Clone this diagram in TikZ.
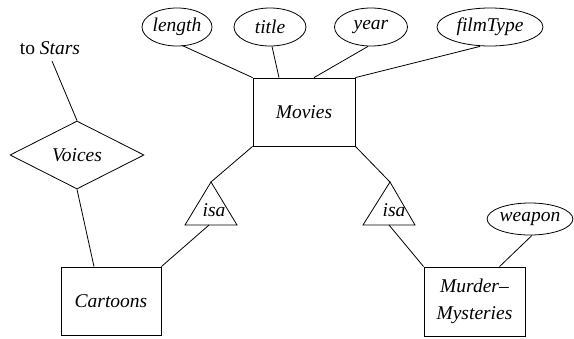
\documentclass[tikz,border=0pt]{standalone}
\usepackage{fontspec}
\setmainfont{Liberation Serif}
\usetikzlibrary{shapes.geometric}
\begin{document}
\begin{tikzpicture}[x=1pt,y=-1pt,line width=0.8pt,
  font=\fontsize{19.5}{27}\selectfont\itshape,
  entity/.style={draw,rectangle,inner sep=0pt},
  attr/.style={draw,ellipse,inner sep=0pt},
  rel/.style={draw,diamond,inner sep=0pt,minimum width=134pt,minimum height=68pt},
  lbl/.style={inner sep=0pt}]
\useasboundingbox (0,0) rectangle (574,338);

% entity sets
\node[entity,minimum width=102pt,minimum height=68pt] (movies) at (304,112) {Movies};
\node[entity,minimum width=100pt,minimum height=68pt] (cartoons) at (111,301) {Cartoons};
\node[entity,minimum width=101pt,minimum height=69pt,align=center] (murder) at (474.5,301.5)
  {Murder--\\Mysteries};

% attributes of Movies
\node[attr,minimum width=70pt,minimum height=38pt] (length) at (177,27) {length};
\node[attr,minimum width=72pt,minimum height=38pt] (title) at (270,27) {title};
\node[attr,minimum width=73pt,minimum height=38pt] (year) at (371,27) {year};
\node[attr,minimum width=106pt,minimum height=38pt] (filmtype) at (490,27) {filmType};
\node[attr,minimum width=85pt,minimum height=32pt] (weapon) at (530,219) {weapon};

% relationship
\node[rel] (voices) at (77,155) {Voices};
\node[lbl] (stars) at (50,48) {\upshape to \itshape Stars};
\coordinate (starsend) at (52,61);

% isa triangles
\coordinate (isaLtop) at (211,182);
\coordinate (isaLleft) at (185,225);
\coordinate (isaLright) at (237,225);
\coordinate (isaLbot) at (209,225);
\draw (isaLtop) -- (isaLleft) -- (isaLright) -- cycle;
\node[lbl] (isaL) at (214,210) {isa};

\coordinate (isaRtop) at (390,182);
\coordinate (isaRleft) at (363,225);
\coordinate (isaRright) at (415,225);
\coordinate (isaRbot) at (389,225);
\draw (isaRtop) -- (isaRleft) -- (isaRright) -- cycle;
\node[lbl] (isaR) at (394,210) {isa};

% connectors
\draw (length.south) ++(5,-1) -- (movies.north west);
\draw (title.south) ++(2,0) -- ([xshift=-25pt]movies.north);
\draw (year.south) ++(-3,0) -- ([xshift=10pt]movies.north);
\draw (filmtype.south) ++(-10,0) -- (movies.north east);
\draw (starsend) -- (voices.north);
\draw (voices.south) -- ([xshift=-17pt]cartoons.north);
\draw (movies.south west) -- (isaLtop);
\draw (isaLbot) -- (cartoons.north east);
\draw (movies.south east) -- (isaRtop);
\draw (isaRbot) -- (murder.north west);
\draw ([xshift=2pt]weapon.south) -- ([xshift=25pt]murder.north);
\end{tikzpicture}
\end{document}
